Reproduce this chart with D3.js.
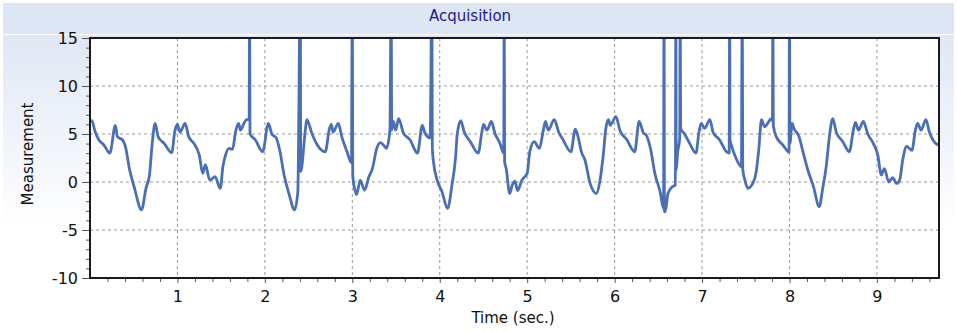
<!DOCTYPE html>
<html>
<head>
<meta charset="utf-8">
<script src="https://cdn.jsdelivr.net/npm/d3@7"></script>
<style>
  body { margin: 0; background: #fff; }
  text { font-family: "DejaVu Sans", Verdana, sans-serif; }
</style>
</head>
<body>
<div id="chart"></div>
<script>
// Acquisition trace: measurement vs time, spikes run off the top of the axis
let timeSec = [
  0.00, 0.02, 0.06, 0.10, 0.16, 0.227, 0.29, 0.315, 0.37, 0.41, 0.45, 0.505, 0.59, 0.64, 0.68, 0.71, 0.745, 0.78, 0.85, 0.935,
  0.97, 1.00, 1.03, 1.087, 1.13, 1.19, 1.25, 1.29, 1.32, 1.37, 1.43, 1.49, 1.52, 1.55, 1.59, 1.63, 1.665, 1.70, 1.72, 1.76,
  1.79, 1.82, 1.825, 1.83, 1.89, 1.975, 2.04, 2.08, 2.13, 2.17, 2.22, 2.275, 2.34, 2.377, 2.405, 2.41, 2.465, 2.48, 2.54, 2.60,
  2.69, 2.74, 2.76, 2.78, 2.84, 2.88, 2.94, 2.99, 3.00, 3.005, 3.035, 3.05, 3.09, 3.14, 3.19, 3.23, 3.28, 3.32, 3.37, 3.39,
  3.43, 3.445, 3.45, 3.47, 3.495, 3.53, 3.585, 3.66, 3.745, 3.80, 3.83, 3.89, 3.91, 3.915, 3.93, 3.97, 4.025, 4.09, 4.14, 4.18,
  4.20, 4.24, 4.28, 4.35, 4.44, 4.48, 4.50, 4.54, 4.59, 4.63, 4.69, 4.732, 4.737, 4.742, 4.76, 4.80, 4.83, 4.86, 4.89, 4.94,
  5.00, 5.03, 5.08, 5.14, 5.185, 5.21, 5.24, 5.31, 5.36, 5.41, 5.50, 5.55, 5.585, 5.62, 5.66, 5.72, 5.79, 5.83, 5.87, 5.90,
  5.93, 5.95, 6.015, 6.06, 6.14, 6.23, 6.28, 6.33, 6.36, 6.41, 6.46, 6.52, 6.56, 6.565, 6.57, 6.58, 6.61, 6.66, 6.695, 6.70,
  6.705, 6.72, 6.745, 6.75, 6.755, 6.80, 6.86, 6.93, 6.965, 6.99, 7.03, 7.09, 7.125, 7.20, 7.28, 7.31, 7.316, 7.32, 7.335, 7.39,
  7.45, 7.46, 7.465, 7.49, 7.525, 7.58, 7.62, 7.65, 7.68, 7.715, 7.75, 7.79, 7.805, 7.81, 7.815, 7.85, 7.925, 7.985, 7.995, 8.00,
  8.005, 8.03, 8.05, 8.11, 8.15, 8.21, 8.275, 8.34, 8.38, 8.42, 8.455, 8.495, 8.535, 8.61, 8.685, 8.73, 8.755, 8.79, 8.845, 8.895,
  8.96, 9.01, 9.05, 9.085, 9.135, 9.18, 9.225, 9.26, 9.295, 9.34, 9.40, 9.44, 9.465, 9.505, 9.56, 9.60, 9.675, 9.71
];

let measurement = [
  6.3, 6.4, 5.2, 4.4, 3.85, 3.0, 5.9, 4.7, 4.4, 3.5, 1.4, -0.5, -2.9, -0.66, 0.7, 3.85, 6.1, 4.7, 4.0, 3.05,
  5.3, 6.0, 5.2, 6.1, 4.7, 4.0, 2.8, 0.9, 1.8, 0.2, 0.55, -0.66, 1.6, 2.8, 3.5, 3.4, 5.25, 6.1, 5.4, 6.1,
  6.5, 6.5, 20, 5.0, 4.4, 3.15, 6.1, 5.0, 4.6, 3.3, 0.73, -1.2, -2.9, -1.0, 20, 1.1, 5.6, 6.5, 5.0, 3.85,
  3.15, 5.6, 6.0, 5.2, 6.1, 4.7, 3.15, 2.0, 20, 0.7, -1.0, -1.3, 0.2, -0.85, 0.55, 1.4, 3.5, 4.1, 3.7, 3.5,
  5.4, 20, 5.4, 6.3, 5.4, 6.6, 5.1, 4.4, 3.0, 5.9, 5.1, 4.6, 20, 3.5, 2.0, 0.2, -1.0, -2.75, -0.3, 2.45,
  5.0, 6.4, 5.2, 4.2, 3.0, 5.1, 6.0, 5.4, 6.3, 5.1, 4.0, 3.0, 20, 2.1, 1.4, -1.2, -0.3, 0.1, -0.9, 0.2,
  0.9, 3.15, 4.2, 3.5, 5.4, 6.3, 5.4, 6.5, 5.2, 4.4, 3.15, 5.5, 4.6, 3.15, 2.3, -0.15, -1.2, 0.0, 2.8, 5.6,
  6.5, 5.9, 6.8, 5.4, 4.4, 3.15, 6.3, 5.1, 4.9, 3.5, 0.9, -1.0, -2.8, 20, -3.1, -3.1, -1.2, -0.5, -0.3, 20,
  1.25, 3.0, 4.6, 20, 5.6, 5.0, 4.0, 3.0, 5.2, 6.1, 5.6, 6.5, 5.2, 4.4, 3.15, 3.0, 20, 4.4, 3.85, 2.45,
  1.6, 20, 1.4, 0.2, -0.66, -0.15, 1.1, 3.5, 6.5, 5.75, 6.1, 6.6, 6.4, 20, 5.9, 4.7, 3.85, 3.15, 3.1, 20,
  4.0, 6.1, 5.6, 4.7, 3.3, 1.25, -0.5, -2.57, -0.66, 1.6, 4.6, 6.6, 5.2, 4.2, 3.15, 5.4, 6.2, 5.4, 6.3, 5.0,
  4.0, 2.8, 0.73, 1.4, 0.0, 0.45, -0.15, 0.2, 2.3, 3.7, 3.3, 5.4, 6.1, 5.4, 6.5, 5.2, 4.0, 3.85
];

let yTicks = [-10, -5, 0, 5, 10, 15];
let xTicks = [1, 2, 3, 4, 5, 6, 7, 8, 9];

let svgWidth = 957;
let svgHeight = 332;

let margin = { top: 38, right: 18, bottom: 54, left: 90 };
let width = svgWidth - margin.left - margin.right;
let height = svgHeight - margin.top - margin.bottom;

let svg = d3.select("#chart")
    .append("svg")
    .attr("width", svgWidth)
    .attr("height", svgHeight);

// background: soft blue fading to white, title strip on top
let defs = svg.append("defs");
let bg = defs.append("linearGradient").attr("id", "bg")
    .attr("x1", 0).attr("y1", 0).attr("x2", 0).attr("y2", 1);
bg.append("stop").attr("offset", "0%").attr("stop-color", "#dbe4f3");
bg.append("stop").attr("offset", "70%").attr("stop-color", "#ffffff");

defs.append("clipPath").attr("id", "plotClip")
  .append("rect").attr("width", width).attr("height", height);

svg.append("rect")
    .attr("x", 3).attr("y", 3)
    .attr("width", svgWidth - 6).attr("height", svgHeight - 6)
    .attr("fill", "url(#bg)");

svg.append("rect")
    .attr("x", 3).attr("y", 3)
    .attr("width", svgWidth - 6).attr("height", 31)
    .attr("fill", "#dde6f4");

svg.append("line")
    .attr("x1", 3).attr("x2", svgWidth - 3)
    .attr("y1", 34.5).attr("y2", 34.5)
    .attr("stroke", "#fff").attr("stroke-width", 1);

svg.append("text")
    .attr("x", 470).attr("y", 21)
    .attr("text-anchor", "middle")
    .attr("font-size", 15)
    .attr("fill", "#1c1c8a")
    .text("Acquisition");

let chartGroup = svg.append("g")
    .attr("transform", `translate(${margin.left}, ${margin.top})`);

chartGroup.append("rect")
    .attr("width", width).attr("height", height)
    .attr("fill", "#fff");

let xLinearScale = d3.scaleLinear()
    .domain([0, 9.71])
    .range([0, width]);

let yLinearScale = d3.scaleLinear()
    .domain([-10, 15])
    .range([height, 0]);

// dashed grid
chartGroup.append("g")
    .selectAll("line")
    .data(xTicks)
    .join("line")
    .attr("x1", d => xLinearScale(d)).attr("x2", d => xLinearScale(d))
    .attr("y1", 0).attr("y2", height)
    .attr("stroke", "#9a9a9a").attr("stroke-dasharray", "3,3");

chartGroup.append("g")
    .selectAll("line")
    .data(yTicks.filter(d => d > -10 && d < 15))
    .join("line")
    .attr("x1", 0).attr("x2", width)
    .attr("y1", d => yLinearScale(d)).attr("y2", d => yLinearScale(d))
    .attr("stroke", "#9a9a9a").attr("stroke-dasharray", "3,3");

// minor ticks
let xMinor = d3.range(0.2, 9.71, 0.2).filter(d => Math.abs(d - Math.round(d)) > 0.01);
let bottomMinor = d3.axisBottom(xLinearScale).tickValues(xMinor).tickSize(4).tickFormat("");
let bottomAxis = d3.axisBottom(xLinearScale).tickValues(xTicks).tickSize(5).tickPadding(8).tickFormat(d => String(d));

let yMinor = d3.range(-9, 15, 1).filter(d => d % 5 !== 0);
let leftMinor = d3.axisLeft(yLinearScale).tickValues(yMinor).tickSize(4).tickFormat("");
let leftAxis = d3.axisLeft(yLinearScale).tickValues(yTicks).tickSize(8).tickPadding(4).tickFormat(d => String(d));

function styleAxis(g) {
    g.select(".domain").remove();
    g.selectAll(".tick line").attr("stroke", "#555");
    g.selectAll("text").attr("font-size", 16).attr("fill", "#111")
        .attr("font-family", "DejaVu Sans, Verdana, sans-serif");
}

chartGroup.append("g").attr("transform", `translate(0, ${height})`).call(bottomMinor).call(styleAxis);
chartGroup.append("g").attr("transform", `translate(0, ${height})`).call(bottomAxis).call(styleAxis);
chartGroup.append("g").call(leftMinor).call(styleAxis);
chartGroup.append("g").call(leftAxis).call(styleAxis);

// trace
let trace = timeSec.map((t, i) => ({ t: t, v: measurement[i] }));
let line = d3.line()
    .curve(d3.curveMonotoneX)
    .x(d => xLinearScale(d.t))
    .y(d => yLinearScale(d.v));

chartGroup.append("path")
    .datum(trace)
    .attr("clip-path", "url(#plotClip)")
    .attr("fill", "none")
    .attr("stroke", "#4a6fb5")
    .attr("stroke-width", 2.8)
    .attr("stroke-linejoin", "round")
    .attr("d", line);

// frame
chartGroup.append("rect")
    .attr("width", width).attr("height", height)
    .attr("fill", "none")
    .attr("stroke", "#1a1a1a")
    .attr("stroke-width", 2);

// axis titles
chartGroup.append("text")
    .attr("x", 423)
    .attr("y", height + 45)
    .attr("text-anchor", "middle")
    .attr("font-size", 15)
    .attr("fill", "#111")
    .text("Time (sec.)");

chartGroup.append("text")
    .attr("transform", `translate(${-57}, ${height / 2 - 4}) rotate(-90)`)
    .attr("text-anchor", "middle")
    .attr("font-size", 15)
    .attr("fill", "#111")
    .text("Measurement");
</script>
</body>
</html>
